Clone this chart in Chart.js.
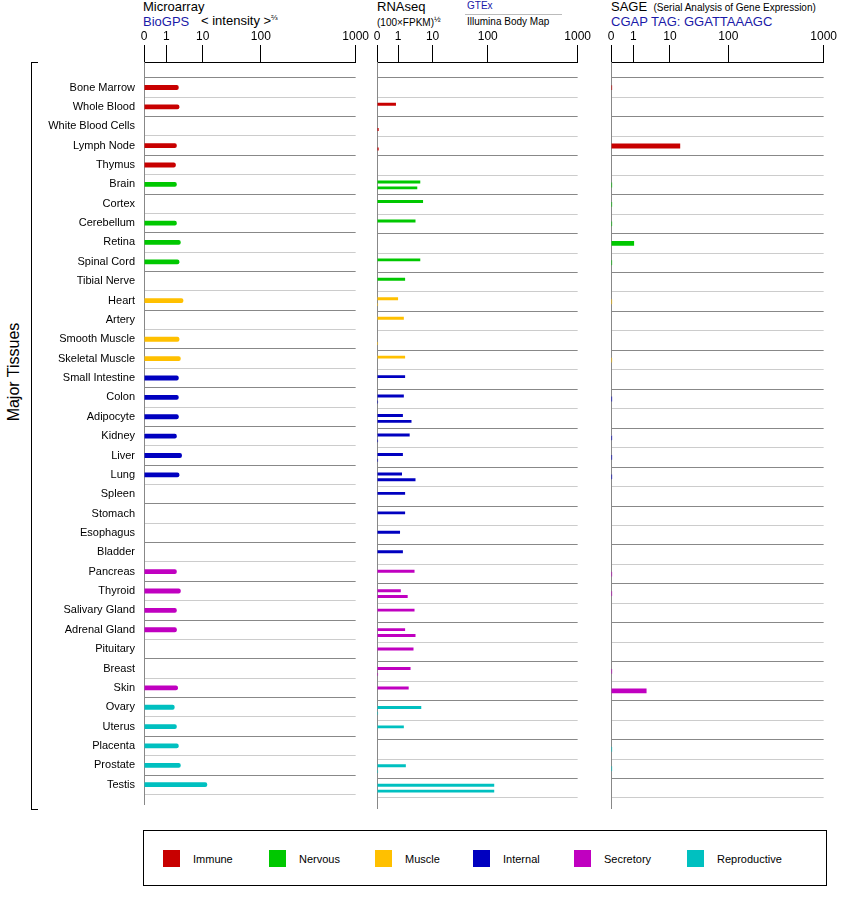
<!DOCTYPE html>
<html><head><meta charset="utf-8">
<script src="https://cdn.jsdelivr.net/npm/chart.js@4"></script>
<style>
body{margin:0;width:842px;height:900px;position:relative;font-family:"Liberation Sans",Arial,sans-serif;background:#fff;overflow:hidden}
.t{position:absolute;white-space:nowrap;color:#000}
.blue{color:#1a1aa8}
canvas{position:absolute;top:0}
.leg{position:absolute;left:143px;top:830px;width:682px;height:54px;border:1px solid #000}
.li{position:absolute;top:19px;font-size:11px;display:flex;align-items:center}
.li span{display:inline-block;width:17px;height:17px;margin-right:13px}
</style></head><body>
<div class="t" style="left:143px;top:-1px;font-size:13px">Microarray</div>
<div class="t blue" style="left:143px;top:14px;font-size:13px">BioGPS</div>
<div class="t" style="left:201px;top:13px;font-size:13px">&lt; intensity &gt;<sup style="font-size:8px">⅔</sup></div>
<div class="t" style="left:377px;top:-1px;font-size:13px">RNAseq</div>
<div class="t" style="left:377px;top:15px;font-size:10px">(100×FPKM)<sup style="font-size:8px">½</sup></div>
<div class="t blue" style="left:467px;top:0px;font-size:10px">GTEx</div>
<div style="position:absolute;left:465px;top:14px;width:97px;border-top:1px solid #bbb"></div>
<div class="t" style="left:467px;top:16px;font-size:10px">Illumina Body Map</div>
<div class="t" style="left:611px;top:-1px;font-size:13px">SAGE <span style="font-size:10px">&nbsp;(Serial Analysis of Gene Expression)</span></div>
<div class="t blue" style="left:611px;top:14px;font-size:13px">CGAP TAG: GGATTAAAGC</div>
<div style="position:absolute;left:31px;top:62px;width:6px;height:746px;border:1px solid #000;border-right:none"></div>
<div class="t" style="left:14px;top:372px;font-size:16px;transform:translate(-50%,-50%) rotate(-90deg)">Major Tissues</div>
<canvas id="c1" width="370" height="820" style="left:0;width:370px;height:820px"></canvas>
<canvas id="c2" width="222" height="820" style="left:370px;width:222px;height:820px"></canvas>
<canvas id="c3" width="234" height="820" style="left:604px;width:234px;height:820px"></canvas>
<div class="leg" id="leg"></div>
<script>
const tissues=["Bone Marrow","Whole Blood","White Blood Cells","Lymph Node","Thymus","Brain","Cortex","Cerebellum","Retina","Spinal Cord","Tibial Nerve","Heart","Artery","Smooth Muscle","Skeletal Muscle","Small Intestine","Colon","Adipocyte","Kidney","Liver","Lung","Spleen","Stomach","Esophagus","Bladder","Pancreas","Thyroid","Salivary Gland","Adrenal Gland","Pituitary","Breast","Skin","Ovary","Uterus","Placenta","Prostate","Testis"];
const groups=["Immune","Nervous","Muscle","Internal","Secretory","Reproductive"];
const groupColors=["#c80000","#00c800","#ffc000","#0000c0","#c000c0","#00c0c0"];
const groupOfTissue=[0,0,0,0,0,1,1,1,1,1,1,2,2,2,2,3,3,3,3,3,3,3,3,3,3,4,4,4,4,4,4,4,5,5,5,5,5];
const tickLabels=["0","1","10","100","1000"];
const tickValues=[0,1,10,100,1000];
const microarray=[2.2,2.3,null,1.95,1.83,1.95,null,1.95,2.5,2.3,null,2.96,null,2.3,2.5,2.2,2.2,2.2,1.95,2.7,2.3,null,null,null,null,1.95,2.5,1.95,1.95,null,null,2.1,1.7,1.95,2.2,2.5,12];
const rnaGTEx=[null,0.9,null,null,null,4.4,5.3,3.2,null,4.4,1.6,1.0,1.47,null,1.6,1.6,1.47,1.38,2.17,1.38,1.3,1.6,1.6,1.14,1.38,3.0,1.2,3.0,1.6,2.8,2.3,2.03,4.7,1.47,null,1.68,118];
const rnaIllumina=[null,null,0.08,0.08,null,3.6,null,null,null,null,null,0.05,null,0.05,null,null,0.05,2.45,0.05,0.05,3.2,null,null,null,null,null,1.9,null,3.2,null,0.05,null,0.05,null,null,0.05,118];
const sage=[0.05,null,null,15,null,0.05,0.05,0.05,1.05,0.05,null,0.05,null,null,0.05,null,0.05,null,0.05,0.05,0.05,null,null,null,null,0.05,0.05,null,null,null,0.05,2.3,null,null,0.05,0.05,null];

// axis position fraction of each tick value (scale shape)
const tickFrac=[0,0.105,0.277,0.552,1];
function tf(v){
  if(v==null) return null;
  if(v<=1) return v*tickFrac[1];
  const l=Math.log10(v);
  const i=Math.min(3,Math.floor(l)+1);
  return tickFrac[i]+(l-(i-1))*(tickFrac[i+1]-tickFrac[i]);
}
const rowColor=i=>groupColors[groupOfTissue[i]];
function pts(arr){return arr.map((v,i)=>v==null?null:{x:tf(v),y:i}).filter(p=>p);}
function colors(arr){return arr.map((v,i)=>v==null?null:rowColor(i)).filter(c=>c);}

function make(id,datasets,yw,showLabels,catPct,barPct){
  new Chart(document.getElementById(id),{
    type:'bar',
    data:{datasets:datasets.map(a=>({data:pts(a),backgroundColor:colors(a),borderWidth:0,borderSkipped:'start',borderRadius:showLabels?{topRight:2,bottomRight:2}:0,categoryPercentage:catPct,barPercentage:barPct}))},
    options:{
      indexAxis:'y',responsive:false,animation:false,
      layout:{autoPadding:false,padding:{top:20,right:6,bottom:12,left:0}},
      plugins:{legend:{display:false},tooltip:{enabled:false}},
      scales:{
        x:{type:'linear',position:'top',min:0,max:1,
          afterFit:s=>{s.height=42},
          afterBuildTicks:s=>{s.ticks=tickValues.map(v=>({value:tf(v)}))},
          ticks:{autoSkip:false,maxRotation:0,padding:1,color:'#000',font:{size:12,family:'Liberation Sans'},callback:(v,i)=>tickLabels[i]},
          grid:{drawOnChartArea:false,drawTicks:true,tickLength:17,color:'#000'},
          border:{display:true,color:'#000'}},
        y:{type:'linear',min:-0.8,max:36.5,reverse:true,
          afterFit:s=>{s.width=yw},
          afterBuildTicks:s=>{s.ticks=tissues.map((t,i)=>({value:i}))},
          ticks:{display:showLabels,autoSkip:false,padding:9,color:'#000',font:{size:11,family:'Liberation Sans'},callback:v=>tissues[v]},
          grid:{drawTicks:false,color:c=>(c.tick&&c.tick.value%2===0)?'#888':'#ccc'},
          border:{display:true,color:'#888'}}
      }
    }
  });
}
make('c1',[microarray],144,true,0.25,1);
make('c2',[rnaGTEx,rnaIllumina],7,false,0.6,0.5);
make('c3',[sage],7,false,0.25,1);

const legX=[19,125,231,329,430,543];
const leg=document.getElementById('leg');
groups.forEach((g,i)=>{const d=document.createElement('div');d.className='li';d.style.left=legX[i]+'px';
 d.innerHTML='<span style="background:'+groupColors[i]+'"></span>'+g;leg.appendChild(d);});
</script>
</body></html>
